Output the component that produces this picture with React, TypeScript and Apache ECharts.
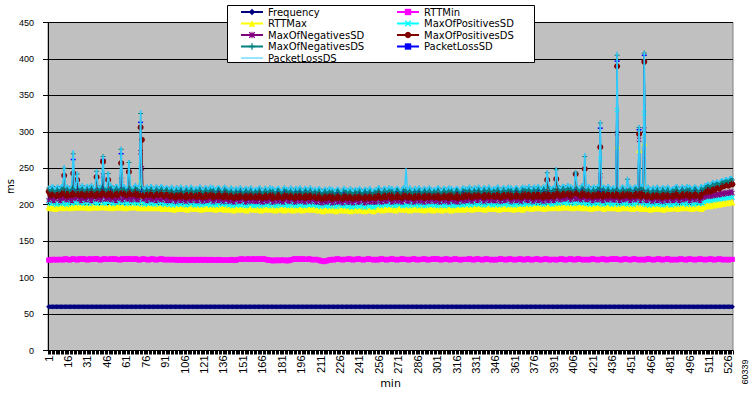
import React, { useEffect, useRef } from "react";
import * as echarts from "echarts";

const N = 529;
const categories: string[] = Array.from({ length: N }, (_, i) => String(i + 1));

const yTicks = [0, 50, 100, 150, 200, 250, 300, 350, 400, 450];

const seriesNames = [
  "Frequency",
  "RTTMin",
  "RTTMax",
  "MaxOfPositivesSD",
  "MaxOfNegativesSD",
  "MaxOfPositivesDS",
  "MaxOfNegativesDS",
  "PacketLossSD",
  "PacketLossDS",
];

const frequency = [
60,60,60,60,60,60,60,60,60,60,60,60,60,60,60,60,60,60,60,60,60,60,60,
60,60,60,60,60,60,60,60,60,60,60,60,60,60,60,60,60,60,60,60,60,60,60,
60,60,60,60,60,60,60,60,60,60,60,60,60,60,60,60,60,60,60,60,60,60,60,
60,60,60,60,60,60,60,60,60,60,60,60,60,60,60,60,60,60,60,60,60,60,60,
60,60,60,60,60,60,60,60,60,60,60,60,60,60,60,60,60,60,60,60,60,60,60,
60,60,60,60,60,60,60,60,60,60,60,60,60,60,60,60,60,60,60,60,60,60,60,
60,60,60,60,60,60,60,60,60,60,60,60,60,60,60,60,60,60,60,60,60,60,60,
60,60,60,60,60,60,60,60,60,60,60,60,60,60,60,60,60,60,60,60,60,60,60,
60,60,60,60,60,60,60,60,60,60,60,60,60,60,60,60,60,60,60,60,60,60,60,
60,60,60,60,60,60,60,60,60,60,60,60,60,60,60,60,60,60,60,60,60,60,60,
60,60,60,60,60,60,60,60,60,60,60,60,60,60,60,60,60,60,60,60,60,60,60,
60,60,60,60,60,60,60,60,60,60,60,60,60,60,60,60,60,60,60,60,60,60,60,
60,60,60,60,60,60,60,60,60,60,60,60,60,60,60,60,60,60,60,60,60,60,60,
60,60,60,60,60,60,60,60,60,60,60,60,60,60,60,60,60,60,60,60,60,60,60,
60,60,60,60,60,60,60,60,60,60,60,60,60,60,60,60,60,60,60,60,60,60,60,
60,60,60,60,60,60,60,60,60,60,60,60,60,60,60,60,60,60,60,60,60,60,60,
60,60,60,60,60,60,60,60,60,60,60,60,60,60,60,60,60,60,60,60,60,60,60,
60,60,60,60,60,60,60,60,60,60,60,60,60,60,60,60,60,60,60,60,60,60,60,
60,60,60,60,60,60,60,60,60,60,60,60,60,60,60,60,60,60,60,60,60,60,60,
60,60,60,60,60,60,60,60,60,60,60,60,60,60,60,60,60,60,60,60,60,60,60,
60,60,60,60,60,60,60,60,60,60,60,60,60,60,60,60,60,60,60,60,60,60,60,
60,60,60,60,60,60,60,60,60,60,60,60,60,60,60,60,60,60,60,60,60,60,60,
60,60,60,60,60,60,60,60,60,60,60,60,60,60,60,60,60,60,60,60,60,60,60,
];

const rttMin = [
124,124,125,125,124,125,125,124,125,125,125,124,125,126,125,125,124,125,125,126,125,125,124,
125,126,125,125,126,125,125,124,125,126,125,125,125,126,126,125,125,124,125,125,126,125,125,
125,125,126,125,125,126,125,125,125,124,125,126,125,125,126,125,125,126,125,125,125,126,125,
125,124,125,125,126,125,125,125,124,125,125,126,125,125,124,125,125,125,126,125,125,124,125,
125,125,124,125,125,125,124,124,125,124,124,125,124,124,125,124,124,124,125,124,124,125,124,
124,125,124,124,125,124,124,125,124,124,124,125,124,124,124,124,125,124,124,124,124,124,124,
124,124,124,125,124,124,124,124,125,125,125,126,125,125,125,125,126,125,125,125,126,125,125,
125,126,125,125,125,126,125,125,124,124,124,124,123,123,124,124,124,123,124,124,124,124,123,
124,123,124,124,125,125,126,125,125,126,125,125,126,125,125,125,125,126,125,125,124,125,125,
125,124,124,123,123,122,122,123,123,124,124,125,125,124,125,125,126,125,125,125,124,125,125,
125,125,126,125,125,124,125,125,125,126,125,125,125,124,125,125,125,126,125,125,125,124,125,
125,124,125,125,126,125,125,125,124,125,125,125,126,125,125,125,124,125,125,125,126,125,125,
125,125,124,125,125,125,126,125,125,124,125,125,125,125,126,125,125,124,125,125,125,126,125,
125,126,125,125,124,125,125,125,126,125,125,124,125,125,125,126,125,125,125,124,125,125,125,
125,125,125,126,125,125,124,125,125,126,125,125,125,124,125,125,126,125,125,125,124,125,125,
124,125,125,125,126,125,125,125,124,125,125,126,125,125,125,124,125,125,125,126,125,125,124,
125,125,126,125,125,124,125,125,125,126,125,125,124,125,125,125,126,125,125,124,125,125,125,
125,124,125,125,125,126,125,125,124,125,125,125,126,125,125,124,125,125,126,125,125,125,124,
125,125,125,124,125,125,126,125,125,125,124,125,125,125,126,125,125,124,125,125,125,126,125,
125,126,125,125,125,124,125,125,126,125,125,125,124,125,125,126,125,125,125,124,125,125,125,
124,125,125,126,125,125,125,124,125,125,125,126,125,125,124,125,125,125,126,125,125,124,125,
125,125,124,125,125,126,125,125,125,124,125,125,126,125,125,125,124,125,125,125,126,125,125,
125,124,125,125,125,126,125,125,124,125,125,125,126,125,125,124,125,125,125,124,125,125,125,
];

const rttMax = [
197,195,196,198,196,194,195,197,196,198,197,195,196,197,199,197,196,195,197,198,196,197,198,
198,196,197,199,197,196,198,197,195,196,198,199,197,196,197,198,196,197,199,198,197,196,197,
196,198,197,195,197,198,196,197,199,197,196,198,197,195,196,198,197,196,198,197,199,197,196,
197,195,235,197,196,195,197,198,196,195,196,197,195,196,198,196,195,197,196,194,196,197,195,
196,194,195,197,195,193,195,196,194,195,197,195,194,196,195,193,195,196,197,195,194,195,196,
194,196,195,193,195,196,194,195,197,196,194,195,196,194,193,195,197,195,194,196,195,193,195,
195,193,194,196,194,192,194,195,193,194,196,194,193,195,194,192,194,195,196,194,193,194,195,
193,195,194,192,194,195,193,194,196,195,193,194,195,193,192,194,196,194,193,195,194,192,194,
195,193,194,196,193,192,194,195,194,193,195,194,192,194,195,193,194,196,194,193,195,194,193,
194,192,193,195,193,191,193,194,192,193,195,193,192,194,193,191,193,194,195,193,192,193,194,
192,194,193,191,193,194,192,193,195,194,192,193,194,192,191,193,195,193,192,194,193,191,193,
195,193,194,196,194,192,194,195,193,194,196,194,193,195,194,192,194,195,196,194,193,194,195,
193,195,194,192,194,195,193,194,196,195,193,194,195,193,192,194,196,194,193,195,194,192,194,
195,193,194,196,193,192,194,195,194,193,195,194,192,194,195,193,194,196,194,193,195,194,193,
196,194,195,197,195,193,195,196,194,195,197,195,194,196,195,193,195,196,197,195,194,195,196,
194,196,195,193,195,196,194,195,197,196,194,195,196,194,193,195,197,195,194,196,195,193,195,
197,195,196,198,196,194,196,197,195,196,198,196,195,197,196,194,196,197,198,196,195,196,197,
196,198,197,195,197,198,196,197,199,198,196,197,198,196,195,197,199,197,196,198,197,195,197,
197,195,196,198,196,194,196,197,195,196,198,196,231,197,196,194,196,197,198,196,195,196,197,
195,197,281,194,196,197,195,196,198,197,195,196,197,195,194,196,198,196,195,275,196,194,196,
285,194,195,197,195,193,195,196,194,195,197,195,194,196,195,193,195,196,197,195,194,195,196,
195,197,196,194,196,197,195,196,198,197,195,196,197,195,194,196,198,196,195,197,196,194,196,
197,199,198,200,199,198,200,201,199,200,202,201,200,202,203,201,202,204,203,202,204,205,203,
];

const maxPosSD = [
204,202,201,203,205,202,200,201,203,204,202,201,203,202,200,202,204,203,201,228,203,202,204,
205,203,202,204,201,203,205,204,202,201,203,204,206,203,202,201,203,205,204,202,203,201,204,
203,205,204,202,201,203,204,202,205,203,232,202,204,203,201,202,204,205,203,201,203,204,202,
201,203,250,204,202,200,202,203,201,204,202,203,201,200,202,204,203,201,202,204,201,200,203,
202,200,201,203,199,201,202,200,203,201,200,202,203,201,199,200,202,203,201,202,200,199,201,
200,202,201,199,202,203,201,200,202,201,199,201,203,202,200,199,201,203,202,200,201,202,200,
201,199,200,202,198,200,201,199,202,200,199,201,202,200,198,199,201,202,200,201,199,198,200,
199,201,200,198,201,202,200,199,201,200,198,200,202,201,199,198,200,202,201,199,200,201,199,
200,198,199,201,200,202,199,198,200,201,199,200,202,199,198,200,201,199,200,202,200,199,201,
198,200,199,197,200,201,199,198,200,199,197,199,201,200,198,197,199,201,200,198,199,200,198,
199,197,198,200,196,198,199,197,200,198,197,199,200,198,196,197,199,200,198,199,197,196,198,
201,199,200,202,198,200,201,199,202,200,199,201,202,200,198,199,201,202,200,201,199,198,200,
199,201,200,198,201,202,200,199,201,200,198,200,202,201,199,198,200,202,201,199,200,201,199,
200,198,199,201,200,202,199,198,200,201,199,200,202,199,198,200,201,199,200,202,200,199,201,
202,200,201,203,199,201,202,200,203,201,200,202,203,201,199,200,202,203,201,202,200,199,201,
200,202,201,199,202,203,201,200,202,201,199,201,203,202,200,199,201,203,202,200,201,202,200,
203,201,202,204,200,202,203,201,204,202,201,203,204,202,200,201,203,204,202,203,201,200,202,
202,204,203,201,204,205,203,202,204,203,201,203,205,204,202,201,203,205,204,202,203,204,202,
203,201,202,204,200,202,203,201,204,202,201,203,262,202,200,201,203,204,202,203,201,200,202,
201,203,330,200,203,204,202,201,203,202,200,202,204,203,201,200,202,204,203,300,202,203,201,
325,200,201,203,199,201,202,200,203,201,200,202,203,201,199,200,202,203,201,202,200,199,201,
201,203,202,200,203,204,202,201,203,202,200,202,204,203,201,200,202,204,203,201,202,203,201,
204,206,205,207,206,205,207,208,206,207,209,208,207,209,210,208,209,211,210,209,211,212,210,
];

const maxNegSD = [
206,209,211,207,205,208,210,212,207,205,209,211,208,213,206,209,212,207,205,215,210,208,226,
210,207,205,209,212,208,206,210,211,207,205,208,212,210,207,209,211,206,208,240,211,207,209,
208,211,206,209,212,207,205,210,211,208,234,206,209,212,210,207,211,208,206,210,212,208,207,
206,209,272,250,207,210,208,205,209,211,207,206,210,208,205,209,211,207,206,209,210,207,205,
209,206,205,208,210,207,204,206,209,208,205,207,210,206,204,208,209,206,205,208,210,207,205,
205,208,210,206,204,207,209,205,206,208,210,207,204,206,209,208,205,207,210,206,204,207,209,
207,204,206,209,205,203,206,208,207,204,205,208,209,206,203,205,207,208,204,206,209,205,204,
204,207,209,205,203,206,208,204,205,207,209,206,203,205,208,207,204,206,209,205,203,206,208,
208,205,204,207,209,206,203,205,208,207,204,206,209,205,203,207,208,205,204,207,209,206,204,
203,206,208,204,202,205,207,203,204,206,208,205,202,204,207,206,203,205,208,204,202,205,207,
206,203,205,208,204,202,205,207,206,203,204,207,208,205,202,204,206,207,203,205,208,204,203,
204,207,209,205,203,206,208,204,205,207,209,206,203,205,208,207,204,206,209,205,203,206,208,
208,205,204,207,209,206,203,205,208,207,204,206,209,205,203,207,208,205,204,207,209,206,204,
205,208,206,203,207,209,204,206,208,205,203,207,209,206,204,208,205,203,206,209,207,204,206,
208,205,207,210,206,204,207,209,208,205,206,209,210,207,204,206,208,209,205,207,210,206,205,
205,208,210,206,204,207,209,205,206,208,210,207,204,206,209,208,205,207,210,206,204,207,209,
209,206,205,208,210,207,204,206,209,208,205,207,210,206,204,208,209,206,205,208,210,207,205,
207,210,212,208,206,209,211,207,208,210,212,209,206,208,211,210,207,209,212,208,206,209,211,
210,207,206,209,211,208,205,207,210,209,206,208,240,207,205,209,210,207,206,209,211,208,206,
206,209,298,207,205,208,210,206,207,209,211,208,205,207,210,209,206,208,211,289,205,208,210,
303,206,205,208,210,207,204,206,209,208,205,207,210,206,204,208,209,206,205,208,210,207,205,
206,209,211,207,205,208,210,206,207,209,211,208,205,207,210,209,206,208,211,207,205,208,210,
210,212,211,213,212,211,213,214,212,213,215,214,213,215,216,214,215,217,216,215,217,218,216,
];

const maxPosDS = [
218,215,213,216,218,214,212,215,217,213,216,218,240,215,212,216,218,214,213,243,216,214,234,
216,213,215,218,214,212,216,217,214,213,216,218,215,212,238,217,214,213,216,259,217,214,213,
234,217,214,212,216,218,215,213,217,216,257,215,218,216,213,215,245,217,214,216,218,215,213,
216,213,306,289,212,215,217,214,213,216,218,215,212,214,217,216,213,215,218,214,212,215,217,
215,212,211,214,216,213,210,212,215,214,211,213,216,212,210,214,215,212,211,214,216,213,211,
211,214,216,212,210,213,215,211,212,214,216,213,210,212,215,214,211,213,216,212,210,213,215,
213,210,212,215,211,209,212,214,213,210,211,214,215,212,209,211,213,214,210,212,215,211,210,
210,213,215,211,209,212,214,210,211,213,215,212,209,211,214,213,210,212,215,211,209,212,214,
214,211,210,213,215,212,209,211,214,213,210,212,215,211,209,213,214,211,210,213,215,212,210,
209,212,214,210,208,211,213,209,210,212,214,211,208,210,213,212,209,211,214,210,208,211,213,
212,209,211,214,210,208,211,213,212,209,210,213,214,211,208,210,212,213,209,211,214,210,209,
210,213,215,211,209,212,214,210,211,213,215,212,209,211,214,213,210,212,215,211,209,212,214,
214,211,210,213,215,212,209,211,214,213,210,212,215,211,209,213,214,211,210,213,215,212,210,
211,214,212,209,213,215,210,212,214,211,209,213,215,212,210,214,211,209,212,215,213,210,212,
214,211,213,216,212,210,213,215,214,211,212,215,216,213,210,212,214,215,211,213,216,212,211,
211,214,216,212,210,213,215,211,212,214,216,213,210,212,215,214,211,213,216,212,210,213,215,
215,212,211,214,216,213,210,212,215,214,211,213,216,212,210,214,215,234,211,214,216,213,211,
213,235,218,214,212,215,217,213,214,216,218,215,212,214,217,216,242,215,218,214,212,215,217,
249,213,212,215,217,214,211,213,216,215,212,214,279,213,211,215,216,213,212,215,217,214,212,
212,215,390,213,211,214,216,212,213,215,217,214,211,213,216,215,212,214,217,297,211,214,216,
396,212,211,214,216,213,210,212,215,214,211,213,216,212,210,214,215,212,211,214,216,213,211,
212,215,217,213,211,214,216,212,213,215,217,214,211,213,216,215,212,214,217,213,211,214,216,
217,219,218,220,219,218,221,222,220,222,224,223,222,224,226,225,226,228,227,226,229,230,228,
];

const maxNegDS = [
223,219,221,225,220,218,222,224,219,221,225,222,250,220,224,223,219,221,225,270,222,219,242,
224,220,222,226,221,219,223,225,220,222,226,223,219,221,246,224,220,222,226,266,223,220,221,
243,222,226,223,219,221,225,224,220,222,276,221,225,222,219,223,258,224,221,219,223,226,222,
223,219,325,225,220,218,222,224,219,221,225,222,218,220,224,223,219,221,225,222,218,221,223,
222,218,220,224,219,217,221,223,218,220,224,221,217,219,223,222,218,220,224,221,217,220,222,
218,222,224,220,217,219,223,222,218,220,224,219,223,220,217,221,223,222,219,217,221,224,220,
221,217,219,223,218,216,220,222,217,219,223,220,216,218,222,221,217,219,223,220,216,219,221,
217,221,223,219,216,218,222,221,217,219,223,218,222,219,216,220,222,221,218,216,220,223,219,
221,217,219,223,218,216,220,222,217,219,223,220,216,218,222,221,217,219,223,220,216,219,221,
216,220,222,218,215,217,221,220,216,218,222,217,221,218,215,219,221,220,217,215,219,222,218,
220,216,218,222,217,215,219,221,216,218,222,219,215,217,221,220,216,218,222,219,215,218,220,
217,221,223,219,216,218,222,221,217,219,223,218,222,219,216,220,222,221,218,216,220,223,219,
221,217,219,223,218,216,220,222,217,219,223,220,216,218,222,221,217,219,223,220,216,219,221,
217,221,223,219,216,218,222,221,217,219,223,218,222,219,216,220,222,221,218,216,220,223,219,
222,218,220,224,219,217,221,223,218,220,224,221,217,219,223,222,218,220,224,221,217,220,222,
218,222,224,220,217,219,223,222,218,220,224,219,223,220,217,221,223,222,219,217,221,224,220,
223,219,221,225,220,218,222,224,219,221,225,222,218,220,224,223,219,244,225,222,218,221,223,
220,248,226,222,219,221,225,224,220,222,226,221,225,222,219,223,244,224,221,219,223,226,222,
266,219,221,225,220,218,222,224,219,221,225,222,312,220,224,223,219,221,225,222,218,221,223,
219,223,405,221,218,220,224,223,219,221,235,220,224,221,218,222,224,223,220,306,222,225,221,
408,218,220,224,219,217,221,223,218,220,224,221,217,219,223,222,218,220,224,221,217,220,222,
219,223,225,221,218,220,224,223,219,221,225,220,224,221,218,222,224,223,220,218,222,225,221,
223,226,225,228,226,225,228,230,227,229,231,229,228,231,233,231,232,234,233,232,235,236,234,
];

const packetLossSD = [
219,215,213,218,221,216,214,219,220,215,213,217,221,218,214,216,220,219,215,262,218,221,216,
220,216,214,219,222,217,215,220,221,216,214,218,222,219,215,217,221,220,216,262,219,222,217,
216,220,222,217,215,219,221,216,214,218,270,217,215,219,222,218,216,220,217,215,219,221,217,
219,215,313,218,221,216,214,219,220,215,213,217,221,218,214,216,220,219,215,217,218,221,216,
214,218,220,215,213,217,219,214,212,216,219,215,213,217,220,216,214,218,215,213,217,219,215,
218,214,212,217,220,215,213,218,219,214,212,216,220,217,213,215,219,218,214,216,217,220,215,
213,217,219,214,212,216,218,213,211,215,218,214,212,216,219,215,213,217,214,212,216,218,214,
217,213,211,216,219,214,212,217,218,213,211,215,219,216,212,214,218,217,213,215,216,219,214,
213,217,219,214,212,216,218,213,211,215,218,214,212,216,219,215,213,217,214,212,216,218,214,
216,212,210,215,218,213,211,216,217,212,210,214,218,215,211,213,217,216,212,214,215,218,213,
212,216,218,213,211,215,217,212,210,214,217,213,211,215,218,214,212,216,213,211,215,217,213,
217,213,211,216,219,214,212,217,218,213,211,215,219,216,212,214,218,217,213,215,216,219,214,
213,217,219,214,212,216,218,213,211,215,218,214,212,216,219,215,213,217,214,212,216,218,214,
217,213,211,216,219,214,212,217,218,213,211,215,219,216,212,214,218,217,213,215,216,219,214,
214,218,220,215,213,217,219,214,212,216,219,215,213,217,220,216,214,218,215,213,217,219,215,
218,214,212,217,220,215,213,218,219,214,212,216,220,217,213,215,219,218,214,216,217,220,215,
215,219,221,216,214,218,220,215,213,217,220,216,214,218,221,217,215,219,216,214,218,220,216,
220,216,214,219,222,217,215,220,221,216,214,218,222,219,215,217,221,220,216,218,219,222,217,
215,219,221,216,214,218,220,215,213,217,220,216,305,218,221,217,215,219,216,214,218,220,216,
219,215,397,218,221,216,214,219,220,215,213,217,221,218,214,216,220,219,215,303,218,221,216,
405,218,220,215,213,217,219,214,212,216,219,215,213,217,220,216,214,218,215,213,217,219,215,
219,215,213,218,221,216,214,219,220,215,213,217,221,218,214,216,220,219,215,217,218,221,216,
219,222,220,223,221,220,223,225,222,224,226,224,223,226,228,226,227,229,228,227,230,231,229,
];

const packetLossDS = [
226,222,224,228,223,221,225,227,222,224,228,225,254,223,227,226,222,224,228,275,225,222,245,
227,223,225,229,224,222,226,228,223,225,229,226,222,224,249,227,223,225,229,268,226,223,224,
246,225,229,226,222,224,228,227,223,225,279,224,228,225,222,226,261,227,224,222,226,229,225,
226,222,330,228,223,221,225,227,222,224,228,225,221,223,227,226,222,224,228,225,221,224,226,
225,221,223,227,222,220,224,226,221,223,227,224,220,222,226,225,221,223,227,224,220,223,225,
221,225,227,223,220,222,226,225,221,223,227,222,226,223,220,224,226,225,222,220,224,227,223,
224,220,222,226,221,219,223,225,220,222,226,223,219,221,225,224,220,222,226,223,219,222,224,
220,224,226,222,219,221,225,224,220,222,226,221,225,222,219,223,225,224,221,219,223,226,222,
224,220,222,226,221,219,223,225,220,222,226,223,219,221,225,224,220,222,226,223,219,222,224,
219,223,225,221,218,220,224,223,219,221,225,220,224,221,218,222,224,223,220,218,222,225,221,
223,219,221,225,220,218,222,224,219,221,225,222,218,220,224,223,219,221,225,222,218,221,223,
220,224,226,222,219,221,225,224,220,222,226,221,225,222,219,223,225,224,221,219,223,226,222,
250,220,222,226,221,219,223,225,220,222,226,223,219,221,225,224,220,222,226,223,219,222,224,
220,224,226,222,219,221,225,224,220,222,226,221,225,222,219,223,225,224,221,219,223,226,222,
225,221,223,227,222,220,224,226,221,223,227,224,220,222,226,225,221,223,227,224,220,223,225,
221,225,227,223,220,222,226,225,221,223,227,222,226,223,220,224,226,225,222,220,224,227,223,
226,222,224,228,223,221,225,227,222,224,228,225,221,223,227,226,222,247,228,225,221,224,226,
223,251,229,225,222,224,228,227,223,225,229,224,228,225,222,226,247,227,224,222,226,229,225,
271,222,224,228,223,221,225,227,222,224,228,225,315,223,227,226,222,224,228,225,221,224,226,
222,226,410,224,221,223,227,226,222,224,238,223,227,224,221,225,227,226,223,309,225,228,224,
410,221,223,227,222,220,224,226,221,223,227,224,220,222,226,225,221,223,227,224,220,223,225,
222,226,228,224,221,223,227,226,222,224,228,223,227,224,221,225,227,226,223,221,225,228,224,
226,229,228,231,229,228,231,233,230,232,234,232,231,234,236,234,235,237,236,235,238,239,237,
];

const seriesData = [frequency, rttMin, rttMax, maxPosSD, maxNegSD, maxPosDS, maxNegDS, packetLossSD, packetLossDS];
const seriesColors = ["#000080", "#FF00FF", "#FFFF00", "#00FFFF", "#800080", "#800000", "#008080", "#0000FF", "#33CCFF"];

const SYM_PLUS = "path://M2,0H3V2H5V3H3V5H2V3H0V2H2Z";
const SYM_X = "path://M0,0.7L0.7,0L2.5,1.8L4.3,0L5,0.7L3.2,2.5L5,4.3L4.3,5L2.5,3.2L0.7,5L0,4.3L1.8,2.5Z";
const SYM_STAR = "path://M0,0.7L0.7,0L2.5,1.8L4.3,0L5,0.7L3.2,2.5L5,4.3L4.3,5L2.5,3.2L0.7,5L0,4.3L1.8,2.5ZM2.1,0H2.9V5H2.1Z";
const ICON_LINE = "path://M0,0L0.01,0L0,0.01ZM22,8L21.99,8L22,7.99ZM0,3.5H22V4.5H0Z";
const seriesSymbols: any[] = ["diamond", "rect", "triangle", SYM_X, SYM_STAR, "circle", SYM_PLUS, "rect", "none"];
const seriesSymbolSizes: any[] = [5, 5, 6, 5, 5, 6, 5, [5, 1.5], 0];
const seriesLineWidths = [1, 1, 1, 1, 1, 1, 1, 1, 1.5];
// drawing order (Excel-like stacking of the bands)
const seriesZ = [2, 2.01, 2.02, 2.03, 2.04, 2.06, 2.07, 2.05, 2.08];

const legendLeft: any[] = ["Frequency", "RTTMax", "MaxOfNegativesSD", "MaxOfNegativesDS", { name: "PacketLossDS", icon: ICON_LINE }];
const legendRight = ["RTTMin", "MaxOfPositivesSD", "MaxOfPositivesDS", "PacketLossSD"];

export default function App() {
  const ref = useRef<HTMLDivElement>(null);
  useEffect(() => {
    document.body.style.margin = "0";
    if (!ref.current) return;
    const chart = echarts.init(ref.current, null, { renderer: "svg" });
    const legendCommon = {
      orient: "vertical",
      top: 7,
      itemWidth: 22,
      itemHeight: 8,
      itemGap: 1.5,
      selectedMode: false,
      padding: 0,
      z: 5,
      textStyle: { fontFamily: "DejaVu Sans", fontSize: 10, color: "#000", lineHeight: 10 },
    };
    chart.setOption({
      animation: false,
      backgroundColor: "#ffffff",
      textStyle: { fontFamily: "Liberation Sans, Arial, sans-serif" },
      grid: {
        left: 48,
        top: 22.5,
        width: 685,
        height: 328,
        containLabel: false,
        outerBoundsMode: "none",
        show: true,
        backgroundColor: "#C0C0C0",
        borderColor: "#808080",
        borderWidth: 1,
      },
      legend: [
        { ...legendCommon, left: 240, data: legendLeft },
        { ...legendCommon, left: 396, data: legendRight },
      ],
      graphic: [
        {
          type: "rect",
          z: 4,
          shape: { x: 227.5, y: 5.5, width: 307, height: 57 },
          style: { fill: "#ffffff", stroke: "#000000", lineWidth: 1 },
        },
        {
          type: "text",
          z: 4,
          x: 745,
          y: 372,
          rotation: Math.PI / 2,
          style: {
            text: "60339",
            fontFamily: "Liberation Sans, Arial, sans-serif",
            fontSize: 9,
            fill: "#000",
            align: "center",
            verticalAlign: "middle",
          },
        },
      ],
      xAxis: {
        type: "category",
        data: categories,
        boundaryGap: true,
        name: "min",
        nameLocation: "middle",
        nameGap: 27,
        nameMoveOverlap: false,
        nameTextStyle: { fontFamily: "DejaVu Sans", fontSize: 11, color: "#000" },
        axisLine: { show: true, lineStyle: { color: "#000", width: 1 } },
        axisTick: { show: true, interval: 0, length: 4, lineStyle: { color: "#000" } },
        axisLabel: {
          interval: 14,
          rotate: 90,
          margin: 5,
          fontSize: 11,
          color: "#000",
          fontFamily: "Liberation Sans, Arial, sans-serif",
        },
        splitLine: { show: false },
      },
      yAxis: {
        type: "value",
        min: yTicks[0],
        max: yTicks[yTicks.length - 1],
        interval: 50,
        name: "ms",
        nameLocation: "middle",
        nameGap: 33,
        nameRotate: 90,
        nameMoveOverlap: false,
        nameTextStyle: { fontFamily: "DejaVu Sans", fontSize: 10, color: "#000" },
        axisLine: { show: true, lineStyle: { color: "#000", width: 1 } },
        axisTick: { show: true, length: 5, lineStyle: { color: "#000" } },
        axisLabel: { margin: 14, fontSize: 9, color: "#000", fontFamily: "Liberation Sans, Arial, sans-serif" },
        splitLine: { show: true, lineStyle: { color: "#000", width: 1 } },
      },
      series: seriesNames.map((name, i) => ({
        name,
        type: "line",
        data: seriesData[i],
        symbol: seriesSymbols[i],
        symbolSize: seriesSymbolSizes[i],
        showSymbol: seriesSymbols[i] !== "none",
        showAllSymbol: true,
        lineStyle: { color: seriesColors[i], width: seriesLineWidths[i] },
        itemStyle: { color: seriesColors[i], borderWidth: 0 },
        emphasis: { disabled: true },
        z: seriesZ[i],
      })),
    });
    return () => chart.dispose();
  }, []);
  return <div ref={ref} style={{ width: 751, height: 393 }} />;
}
